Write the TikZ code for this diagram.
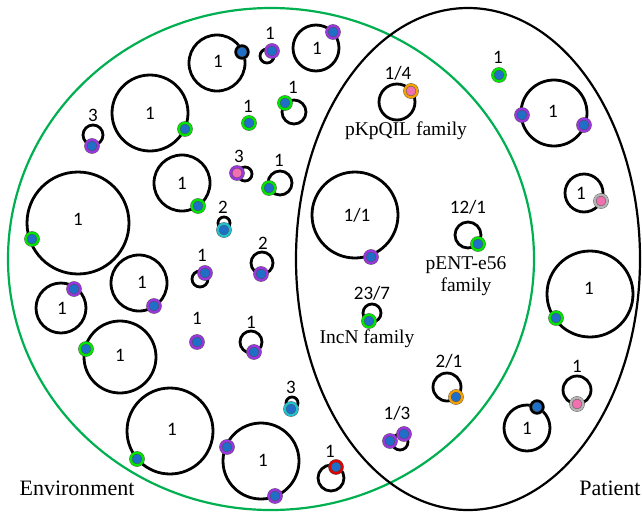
\documentclass[tikz,border=0pt]{standalone}
\usepackage{fontspec}
\setmainfont{Liberation Serif}
\newfontfamily\numfont{Carlito}
\definecolor{envgreen}{HTML}{00B050}
\definecolor{rgreen}{HTML}{00E600}
\definecolor{rpurple}{HTML}{9B35DD}
\definecolor{rcyan}{HTML}{20C0D0}
\definecolor{rorange}{HTML}{F5A000}
\definecolor{rgray}{HTML}{B4B4B4}
\definecolor{rred}{HTML}{E00000}
\definecolor{rblack}{HTML}{000000}
\definecolor{fblue}{HTML}{1F6FC8}
\definecolor{fpink}{HTML}{F070B0}
\tikzset{
  ploop/.style={draw=black, line width=2.8pt},
  num/.style={inner sep=0pt, font=\numfont\fontsize{19}{19}\selectfont},
  fam/.style={inner sep=0pt, align=center, font=\fontsize{19.5}{22}\selectfont},
  setlab/.style={inner sep=0pt, font=\fontsize{22}{24}\selectfont},
  dot/.style={circle, inner sep=0pt, minimum size=12.4pt, draw=black!70, line width=0.4pt,
              double=#1, double distance=2.3pt, fill=fblue},
  pdot/.style={dot=#1, fill=fpink},
}
\begin{document}
\begin{tikzpicture}[x=1pt,y=-1pt]
\useasboundingbox (0,0) rectangle (642,512);
% set ellipses
\draw[envgreen, line width=2.2pt] (271,259) ellipse (263 and 251);
\draw[black, line width=2.2pt] (468,259) ellipse (172 and 251);
\node[setlab] (env) at (77,488) {Environment};
\node[setlab] (pat) at (610,488) {Patient};
% ---- Environment only ----
\draw[ploop] (150,113) circle (38); \node[num] (l1) at (150,113) {1}; \node[dot=rgreen] (d1) at (185,129) {};
\draw[ploop] (93,135) circle (10); \node[num] (l2) at (93,115) {3}; \node[dot=rpurple] (d2) at (92,146) {};
\draw[ploop] (182,183) circle (28); \node[num] (l3) at (182,183) {1}; \node[dot=rgreen] (d3) at (198,206) {};
\draw[ploop] (78,223) circle (51); \node[num] (l4) at (78,219) {1}; \node[dot=rgreen] (d4) at (32,239) {};
\draw[ploop] (217,63) circle (28); \node[num] (l5) at (218,61) {1}; \node[dot=rblack] (d5) at (242,52) {};
\draw[ploop] (267,56) circle (7); \node[num] (l6) at (270,33) {1}; \node[dot=rpurple] (d6) at (272,51) {};
\draw[ploop] (316,48) circle (23); \node[num] (l7) at (317,48) {1}; \node[dot=rpurple] (d7) at (333,32) {};
\node[num] (l8) at (248,106) {1}; \node[dot=rgreen] (d8) at (249,123) {};
\draw[ploop] (294,112) circle (12); \node[num] (l9) at (293,87) {1}; \node[dot=rgreen] (d9) at (285,103) {};
\draw[ploop] (245,174) circle (7); \node[num] (l10) at (239,156) {3}; \node[pdot=rpurple] (d10) at (237,173) {};
\draw[ploop] (280,183) circle (12); \node[num] (l11) at (279,160) {1}; \node[dot=rgreen] (d11) at (269,188) {};
\draw[ploop] (224,223) circle (6); \node[num] (l12) at (223,207) {2}; \node[dot=rcyan] (d12) at (224,230) {};
\draw[ploop] (262,263) circle (11); \node[num] (l13) at (263,243) {2}; \node[dot=rpurple] (d13) at (261,274) {};
\draw[ploop] (200,279) circle (8); \node[num] (l14) at (202,255) {1}; \node[dot=rpurple] (d14) at (205,273) {};
\draw[ploop] (61,308) circle (25); \node[num] (l15) at (62,308) {1}; \node[dot=rpurple] (d15) at (74,289) {};
\draw[ploop] (139,283) circle (28); \node[num] (l16) at (142,282) {1}; \node[dot=rpurple] (d16) at (154,306) {};
\draw[ploop] (120,357) circle (36); \node[num] (l17) at (120,355) {1}; \node[dot=rgreen] (d17) at (86,349) {};
\node[num] (l18) at (197,318) {1}; \node[dot=rpurple] (d18) at (197,342) {};
\draw[ploop] (251,342) circle (11); \node[num] (l19) at (251,322) {1}; \node[dot=rpurple] (d19) at (254,352) {};
\draw[ploop] (292,403) circle (6); \node[num] (l20) at (291,387) {3}; \node[dot=rcyan] (d20) at (291,409) {};
\draw[ploop] (170,431) circle (43); \node[num] (l21) at (172,429) {1}; \node[dot=rgreen] (d21) at (137,459) {};
\draw[ploop] (261,461) circle (38); \node[num] (l22) at (263,460) {1}; \node[dot=rpurple] (d22a) at (227,447) {}; \node[dot=rpurple] (d22b) at (275,496) {};
\draw[ploop] (331,478) circle (13); \node[num] (l23) at (330,451) {1}; \node[dot=rred] (d23) at (336,467) {};
% ---- shared ----
\draw[ploop] (397,102) circle (18); \node[num] (l24) at (398,73) {1/4}; \node[pdot=rorange] (d24) at (411,91) {};
\node[fam] (f24) at (406,131) {pKpQIL family};
\draw[ploop] (355,215) circle (43); \node[num] (l25) at (357,215) {1/1}; \node[dot=rpurple] (d25) at (371,257) {};
\draw[ploop] (468,235) circle (13); \node[num] (l26) at (468,207) {12/1}; \node[dot=rgreen] (d26) at (478,244) {};
\node[fam] (f26) at (466,276) {pENT-e56\\family};
\draw[ploop] (372,313) circle (9); \node[num] (l27) at (372,293) {23/7}; \node[dot=rgreen] (d27) at (369,321) {};
\node[fam] (f27) at (367,339) {IncN family};
\draw[ploop] (447,387) circle (14); \node[num] (l28) at (449,361) {2/1}; \node[dot=rorange] (d28) at (456,397) {};
\draw[ploop] (400,442) circle (8); \node[num] (l29) at (397,413) {1/3}; \node[dot=rpurple] (d29a) at (390,441) {}; \node[dot=rpurple] (d29b) at (404,434) {};
% ---- patient only ----
\node[num] (l30) at (498,57) {1}; \node[dot=rgreen] (d30) at (499,75) {};
\draw[ploop] (554,113) circle (33); \node[num] (l31) at (553,111) {1}; \node[dot=rpurple] (d31a) at (522,115) {}; \node[dot=rpurple] (d31b) at (584,125) {};
\draw[ploop] (584,193) circle (19); \node[num] (l32) at (581,193) {1}; \node[pdot=rgray] (d32) at (601,201) {};
\draw[ploop] (590,294) circle (43); \node[num] (l33) at (589,288) {1}; \node[dot=rgreen] (d33) at (556,318) {};
\draw[ploop] (577,390) circle (14); \node[num] (l34) at (577,366) {1}; \node[pdot=rgray] (d34) at (577,404) {};
\draw[ploop] (527,428) circle (23); \node[num] (l35) at (527,428) {1}; \node[dot=rblack] (d35) at (537,407) {};
\end{tikzpicture}
\end{document}
